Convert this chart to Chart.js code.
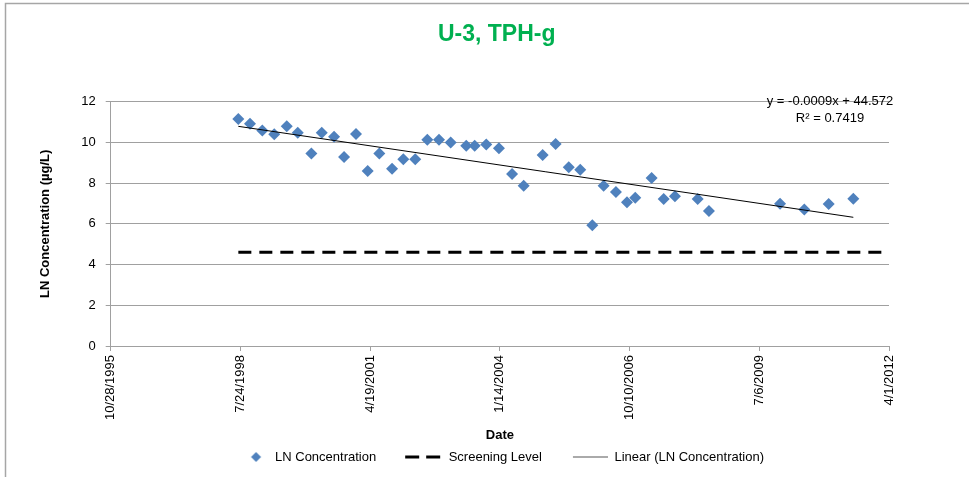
<!DOCTYPE html>
<html>
<head>
<meta charset="utf-8">
<script src="https://cdn.jsdelivr.net/npm/chart.js@4/dist/chart.umd.min.js"></script>
<style>
  html, body { margin: 0; padding: 0; background: #fff; overflow: hidden; }
  canvas { display: block; }
</style>
</head>
<body>
<canvas id="chart" width="969" height="477"></canvas>
<script>
// Sampling dates for well U-3 (TPH-g)
const sampleDates = [
  '1998-07-08', '1998-10-06', '1999-01-09', '1999-04-11', '1999-07-16', '1999-10-09',
  '2000-01-22', '2000-04-11', '2000-07-15', '2000-09-30', '2000-12-31', '2001-03-31',
  '2001-06-29', '2001-10-05', '2001-12-31', '2002-04-02', '2002-07-04', '2002-10-02',
  '2002-12-31', '2003-04-30', '2003-07-04', '2003-10-01', '2004-01-07', '2004-04-17',
  '2004-07-16', '2004-12-09', '2005-03-19', '2005-06-28', '2005-09-25', '2005-12-27',
  '2006-03-24', '2006-06-27', '2006-09-20', '2006-11-23', '2007-03-29', '2007-06-30',
  '2007-09-25', '2008-03-18', '2008-06-13', '2009-12-13', '2010-06-18', '2010-12-23',
  '2011-07-01'
];

// Natural log of concentration (µg/L)
const lnConcentration = [
  11.15, 10.92, 10.59, 10.40, 10.79, 10.48,
  9.46, 10.48, 10.28, 9.28, 10.41, 8.60,
  9.46, 8.71, 9.17, 9.17, 10.13, 10.13,
  10.00, 9.84, 9.84, 9.90, 9.71, 8.45,
  7.87, 9.38, 9.92, 8.78, 8.66, 5.93,
  7.87, 7.56, 7.06, 7.28, 8.25, 7.22,
  7.35, 7.22, 6.63, 6.99, 6.71, 6.97,
  7.23
];

// Screening level (ln µg/L) and the span it is drawn over
const screeningLevel = 4.6;
const screeningDates = ['1998-07-08', '2012-03-07'];

// Axis ticks
const xTickDates = ['1995-10-28', '1998-07-24', '2001-04-19', '2004-01-14', '2006-10-10', '2009-07-06', '2012-04-01'];
const yTicks = [0, 2, 4, 6, 8, 10, 12];

// Trendline labels
const trendEquation = 'y = -0.0009x + 44.572';
const trendR2 = 'R² = 0.7419';

// Spreadsheet-style day serial numbers
const DAY = 86400000;
const EPOCH = Date.UTC(1899, 11, 30);
const serial = d => (Date.parse(d) - EPOCH) / DAY;
const fmtDate = v => {
  const dt = new Date(EPOCH + v * DAY);
  return (dt.getUTCMonth() + 1) + '/' + dt.getUTCDate() + '/' + dt.getUTCFullYear();
};

const xs = sampleDates.map(serial);

// Least-squares linear trend of ln concentration against date
const n = xs.length;
const mx = xs.reduce((a, b) => a + b, 0) / n;
const my = lnConcentration.reduce((a, b) => a + b, 0) / n;
let sxy = 0, sxx = 0;
for (let i = 0; i < n; i++) {
  sxy += (xs[i] - mx) * (lnConcentration[i] - my);
  sxx += (xs[i] - mx) * (xs[i] - mx);
}
const slope = sxy / sxx;
const intercept = my - slope * mx;
const xMin = Math.min(...xs), xMax = Math.max(...xs);

const FONT = '"Liberation Sans", Arial, sans-serif';
Chart.defaults.font.family = FONT;
Chart.defaults.color = '#000';

const MARKER = '#4F81BD';
const AXIS = '#a0a0a0';

// Legend icons
function icon(w, h, draw) {
  const c = document.createElement('canvas');
  c.width = w; c.height = h;
  draw(c.getContext('2d'));
  return c;
}
const legendIcons = [
  icon(39, 14, g => {
    g.fillStyle = MARKER;
    g.beginPath();
    g.moveTo(21.5, 7); g.lineTo(26.5, 2); g.lineTo(31.5, 7); g.lineTo(26.5, 12);
    g.closePath(); g.fill();
  }),
  icon(39, 5, g => {
    g.fillStyle = '#000';
    g.fillRect(2, 1, 14, 3);
    g.fillRect(23, 1, 14, 3);
  }),
  icon(39, 3, g => {
    g.fillStyle = '#555';
    g.fillRect(4, 1, 35, 1);
  })
];

const frame = {
  id: 'frame',
  beforeDraw(chart) {
    const ctx = chart.ctx;
    ctx.save();
    ctx.fillStyle = '#fff';
    ctx.fillRect(0, 0, chart.width, chart.height);
    ctx.strokeStyle = '#a6a6a6';
    ctx.lineWidth = 1.5;
    ctx.beginPath();
    ctx.moveTo(5.5, chart.height);
    ctx.lineTo(5.5, 3.5);
    ctx.lineTo(chart.width, 3.5);
    ctx.stroke();
    ctx.restore();
  }
};

const trendLabel = {
  id: 'trendLabel',
  afterDatasetsDraw(chart) {
    const { ctx, chartArea } = chart;
    ctx.save();
    ctx.font = '13px ' + FONT;
    ctx.fillStyle = '#000';
    ctx.textAlign = 'center';
    ctx.textBaseline = 'middle';
    const cx = chartArea.right - 59;
    ctx.fillText(trendEquation, cx, chartArea.top);
    ctx.fillText(trendR2, cx, chartArea.top + 17);
    ctx.restore();
  }
};

new Chart(document.getElementById('chart'), {
  type: 'scatter',
  data: {
    datasets: [
      {
        label: 'LN Concentration',
        data: xs.map((x, i) => ({ x, y: lnConcentration[i] })),
        pointStyle: 'rectRot',
        pointRadius: 6,
        pointHoverRadius: 6,
        backgroundColor: MARKER,
        borderColor: MARKER,
        borderWidth: 0,
        order: 2
      },
      {
        type: 'line',
        label: 'Screening Level',
        data: screeningDates.map(d => ({ x: serial(d), y: screeningLevel })),
        borderColor: '#000',
        borderWidth: 3,
        borderDash: [13, 8],
        pointRadius: 0,
        fill: false,
        order: 1
      },
      {
        type: 'line',
        label: 'Linear (LN Concentration)',
        data: [
          { x: xMin, y: intercept + slope * xMin },
          { x: xMax, y: intercept + slope * xMax }
        ],
        borderColor: '#000',
        borderWidth: 1,
        pointRadius: 0,
        fill: false,
        order: 0
      }
    ]
  },
  options: {
    responsive: false,
    animation: false,
    devicePixelRatio: 1,
    layout: { padding: { left: 24.5, right: 0, top: 0, bottom: 3.5 } },
    scales: {
      x: {
        type: 'linear',
        position: 'bottom',
        min: serial(xTickDates[0]),
        max: serial(xTickDates[xTickDates.length - 1]),
        afterBuildTicks: s => { s.ticks = xTickDates.map(d => ({ value: serial(d) })); },
        afterFit: s => { s.height = 77.5; },
        ticks: {
          callback: v => fmtDate(v),
          minRotation: 90,
          maxRotation: 90,
          autoSkip: false,
          padding: 4,
          color: '#000',
          font: { size: 13 }
        },
        grid: { drawOnChartArea: false, tickLength: 5, color: AXIS },
        border: { color: AXIS },
        title: {
          display: true,
          text: 'Date',
          color: '#000',
          font: { size: 13, weight: 'bold' },
          padding: { top: 0, bottom: -19.3 }
        }
      },
      y: {
        min: yTicks[0],
        max: yTicks[yTicks.length - 1],
        afterBuildTicks: s => { s.ticks = yTicks.map(v => ({ value: v })); },
        afterFit: s => { s.width = 86.2; },
        ticks: { padding: 10, color: '#000', font: { size: 13 } },
        grid: { color: AXIS, tickLength: 5 },
        border: { color: AXIS },
        title: {
          display: true,
          text: 'LN Concentration (µg/L)',
          color: '#000',
          font: { size: 13, weight: 'bold' },
          padding: { top: 12.7, bottom: 0 }
        }
      },
      yRight: {
        position: 'right',
        min: 0,
        max: 12,
        grid: { display: false },
        ticks: { display: false },
        border: { display: false },
        afterFit: s => { s.width = 80; }
      }
    },
    plugins: {
      title: {
        display: true,
        text: 'U-3, TPH-g',
        color: '#00B050',
        font: { size: 23, weight: 'bold' },
        padding: { top: 21.2, bottom: 52.9 }
      },
      legend: {
        position: 'bottom',
        labels: {
          usePointStyle: true,
          pointStyleWidth: 39,
          padding: 27,
          color: '#000',
          font: { size: 13 },
          generateLabels: chart => chart.data.datasets.map((ds, i) => ({
            text: ds.label,
            pointStyle: legendIcons[i],
            datasetIndex: i,
            hidden: false,
            lineWidth: 0,
            strokeStyle: 'rgba(0,0,0,0)',
            fillStyle: 'rgba(0,0,0,0)',
            fontColor: '#000'
          }))
        }
      },
      tooltip: { enabled: false }
    }
  },
  plugins: [frame, trendLabel]
});
</script>
</body>
</html>
